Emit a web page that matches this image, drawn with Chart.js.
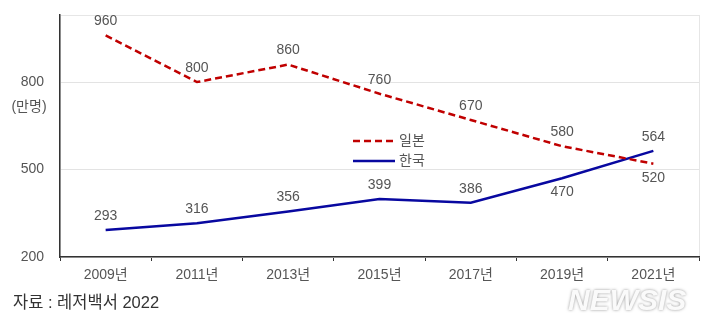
<!DOCTYPE html>
<html>
<head>
<meta charset="utf-8">
<script src="https://cdn.jsdelivr.net/npm/chart.js@4.4.1/dist/chart.umd.min.js"></script>
<style>
    html, body { margin: 0; padding: 0; background: #fff; }
    #wrap { width: 720px; height: 326px; position: relative; }
</style>
</head>
<body>
<div id="wrap"><canvas id="tourChart" width="720" height="326"></canvas></div>
<script>
// 해외 관광객 수 (만명)
const years = ['2009년', '2011년', '2013년', '2015년', '2017년', '2019년', '2021년'];
const japanValues = [960, 800, 860, 760, 670, 580, 520];
const koreaValues = [293, 316, 356, 399, 386, 470, 564];
const yTicks = [200, 500, 800];

// where each value label sits relative to its point
const japanLabelPos = ['above', 'above', 'above', 'above', 'above', 'above', 'below'];
const koreaLabelPos = ['above', 'above', 'above', 'above', 'above', 'below', 'above'];

const FONT = '"Liberation Sans", Arial, "Noto Sans CJK KR", sans-serif';

// light frame around the plot area, drawn under the axes
const framePlugin = {
    id: 'frame',
    beforeDraw(chart) {
        const { ctx, chartArea: a } = chart;
        ctx.save();
        ctx.strokeStyle = '#e6e6e6';
        ctx.lineWidth = 1;
        ctx.strokeRect(a.left + 0.5, a.top + 0.5, a.right - a.left, a.bottom - a.top);
        ctx.restore();
    }
};

// numbers next to every point
const valueLabels = {
    id: 'valueLabels',
    afterDatasetsDraw(chart) {
        const ctx = chart.ctx;
        ctx.save();
        ctx.font = '14px ' + FONT;
        ctx.fillStyle = '#555';
        ctx.textAlign = 'center';
        ctx.textBaseline = 'middle';
        chart.data.datasets.forEach((ds, i) => {
            const meta = chart.getDatasetMeta(i);
            meta.data.forEach((pt, j) => {
                const dy = ds.labelPos[j] === 'above' ? -14 : 14;
                ctx.fillText(ds.data[j], pt.x, pt.y + dy);
            });
        });
        ctx.restore();
    }
};

// legend inside the plot, unit caption, source line and agency mark
const extras = {
    id: 'extras',
    afterDraw(chart) {
        const ctx = chart.ctx;
        ctx.save();
        chart.data.datasets.forEach((ds, i) => {
            const y = 141 + i * 20;
            ctx.strokeStyle = ds.borderColor;
            ctx.lineWidth = ds.borderWidth;
            ctx.setLineDash(ds.borderDash || []);
            ctx.beginPath();
            ctx.moveTo(353, y);
            ctx.lineTo(395, y);
            ctx.stroke();
            ctx.setLineDash([]);
            ctx.font = '14px ' + FONT;
            ctx.fillStyle = '#555';
            ctx.textAlign = 'left';
            ctx.textBaseline = 'middle';
            ctx.fillText(ds.label, 399, y);
        });

        ctx.font = '14px ' + FONT;
        ctx.fillStyle = '#555';
        ctx.textAlign = 'center';
        ctx.textBaseline = 'middle';
        ctx.fillText('(만명)', 29, 107);

        ctx.font = '16.5px ' + FONT;
        ctx.fillStyle = '#333';
        ctx.textAlign = 'left';
        ctx.fillText('자료 : 레저백서 2022', 13, 303);

        ctx.font = 'italic bold 30px ' + FONT;
        ctx.textBaseline = 'alphabetic';
        ctx.shadowColor = 'rgba(120,120,120,0.8)';
        ctx.shadowBlur = 3;
        ctx.fillStyle = '#fafafa';
        ctx.fillText('NEWSIS', 568, 310);
        ctx.restore();
    }
};

new Chart(document.getElementById('tourChart').getContext('2d'), {
    type: 'line',
    data: {
        labels: years,
        datasets: [{
            label: '일본',
            data: japanValues,
            labelPos: japanLabelPos,
            borderColor: '#c00000',
            borderWidth: 2.5,
            borderDash: [7, 4],
            pointRadius: 0,
            tension: 0,
            fill: false
        }, {
            label: '한국',
            data: koreaValues,
            labelPos: koreaLabelPos,
            borderColor: '#0808a0',
            borderWidth: 2.5,
            pointRadius: 0,
            tension: 0,
            fill: false
        }]
    },
    options: {
        responsive: false,
        animation: false,
        layout: { padding: { left: 0, right: 21, top: 15, bottom: 34 } },
        plugins: {
            legend: { display: false },
            tooltip: { enabled: false }
        },
        scales: {
            x: {
                offset: true,
                grid: {
                    display: true,
                    offset: true,
                    drawOnChartArea: false,
                    drawTicks: true,
                    tickLength: 4,
                    color: '#333'
                },
                border: { color: '#333', width: 1.5 },
                ticks: {
                    color: '#555',
                    font: { size: 14, family: FONT },
                    padding: 6,
                    maxRotation: 0
                },
                afterFit: function (scale) {
                    scale.height = 35;
                    scale.paddingLeft = 0;
                    scale.paddingRight = 0;
                }
            },
            y: {
                min: 200,
                max: 1030,
                afterBuildTicks: function (scale) {
                    scale.ticks = yTicks.map(v => ({ value: v }));
                },
                grid: {
                    color: '#e3e3e3',
                    drawTicks: false
                },
                border: { color: '#333', width: 1.5 },
                ticks: {
                    color: '#555',
                    font: { size: 14, family: FONT },
                    padding: 16
                },
                afterFit: function (scale) {
                    scale.width = 60;
                    scale.paddingTop = 0;
                    scale.paddingBottom = 0;
                }
            }
        }
    },
    plugins: [framePlugin, valueLabels, extras]
});
</script>
</body>
</html>
